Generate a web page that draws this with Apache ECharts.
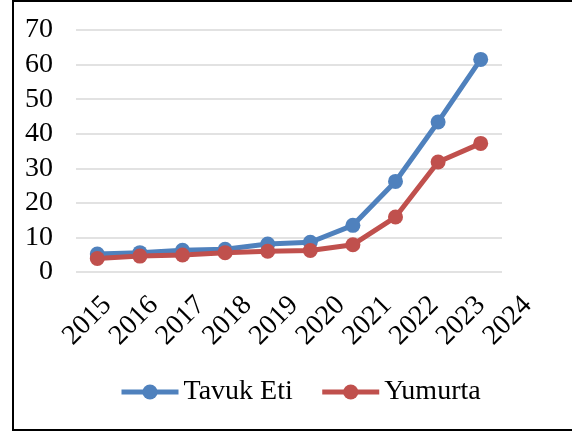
<!DOCTYPE html>
<html>
<head>
<meta charset="utf-8">
<script src="https://cdn.jsdelivr.net/npm/echarts@6/dist/echarts.min.js"></script>
<style>
  html, body { margin: 0; padding: 0; background: #fff; }
  #chart { width: 572px; height: 433px; }
</style>
</head>
<body>
<div id="chart"></div>
<script>
const years = ['2015', '2016', '2017', '2018', '2019', '2020', '2021', '2022', '2023', '2024']
const tavukEti = [5.2, 5.6, 6.3, 6.6, 8.1, 8.6, 13.5, 26.2, 43.4, 61.5]
const yumurta = [3.9, 4.6, 4.9, 5.6, 6.0, 6.2, 7.9, 15.9, 31.8, 37.2]
const yTicks = [0, 70, 10]

const serif = '"Liberation Serif", "Times New Roman", serif'

const chart = echarts.init(document.getElementById('chart'))

// the year labels in the source are spread a bit wider than the points,
// so they sit on a second (label only) axis
const option = {
    backgroundColor: '#fff',
    animation: false,
    graphic: [{
        type: 'rect',
        shape: { x: 13, y: 1, width: 600, height: 429 },
        style: { fill: 'none', stroke: '#000', lineWidth: 2 },
    }],
    grid: [
        { left: 76, right: 70, top: 30, bottom: 161 },
        { left: 74, right: 31, top: 30, bottom: 161 },
    ],
    legend: {
        left: 114,
        top: 373,
        itemWidth: 57,
        itemHeight: 19,
        itemGap: 27,
        lineStyle: { width: 5 },
        textStyle: { fontFamily: serif, fontSize: 28, color: '#000' },
        data: ['Tavuk Eti', 'Yumurta'],
    },
    xAxis: [
        {
            type: 'category',
            gridIndex: 0,
            data: years,
            axisLine: { show: false },
            axisTick: { show: false },
            axisLabel: { show: false },
        },
        {
            type: 'category',
            gridIndex: 1,
            data: years,
            axisLine: { show: false },
            axisTick: { show: false },
            axisLabel: {
                rotate: 45,
                margin: 19,
                interval: 0,
                verticalAlign: 'top',
                fontFamily: serif,
                fontSize: 28,
                color: '#000',
            },
        },
    ],
    yAxis: [
        {
            type: 'value',
            gridIndex: 0,
            min: yTicks[0],
            max: yTicks[1],
            interval: yTicks[2],
            axisLine: { show: false },
            axisTick: { show: false },
            axisLabel: {
                margin: 23,
                fontFamily: serif,
                fontSize: 28,
                color: '#000',
            },
            splitLine: { lineStyle: { color: '#d9d9d9', width: 1.5 } },
        },
        {
            type: 'value',
            gridIndex: 1,
            show: false,
            min: yTicks[0],
            max: yTicks[1],
            splitLine: { show: false },
        },
    ],
    series: [
        {
            name: 'Tavuk Eti',
            type: 'line',
            data: tavukEti,
            symbol: 'circle',
            symbolSize: 15,
            itemStyle: { color: '#4f81bd' },
            lineStyle: { color: '#4f81bd', width: 5 },
        },
        {
            name: 'Yumurta',
            type: 'line',
            data: yumurta,
            symbol: 'circle',
            symbolSize: 15,
            itemStyle: { color: '#c0504d' },
            lineStyle: { color: '#c0504d', width: 5 },
        },
    ],
}

chart.setOption(option)
</script>
</body>
</html>
